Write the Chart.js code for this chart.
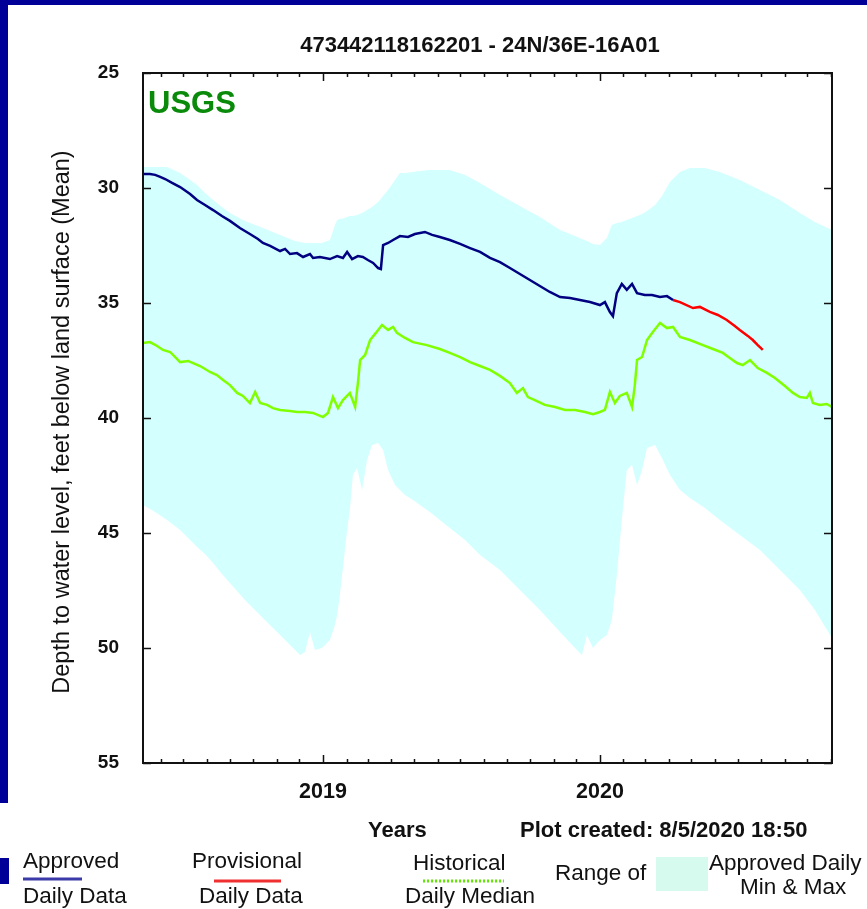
<!DOCTYPE html>
<html>
<head>
<meta charset="utf-8">
<script src="https://cdn.jsdelivr.net/npm/chart.js@4.4.0/dist/chart.umd.min.js"></script>
<style>
body { margin: 0; background: #fff; }
#wrap { position: relative; width: 867px; height: 909px; overflow: hidden; }
#frameTop { position: absolute; left: 0; top: 0; width: 867px; height: 5px; background: #000099; }
#frameLeft { position: absolute; left: 0; top: 0; width: 8px; height: 803px; background: #000099; }
#frameBit { position: absolute; left: 0; top: 858px; width: 9px; height: 26px; background: #000099; }
</style>
</head>
<body>
<div id="wrap">
  <canvas id="gw" width="867" height="909"></canvas>
  <div id="frameTop"></div>
  <div id="frameLeft"></div>
  <div id="frameBit"></div>
</div>
<script>
// decimal years, depth below land surface (ft)
var approvedYears = [2018.350, 2018.375, 2018.394, 2018.412, 2018.430, 2018.455, 2018.484, 2018.520, 2018.545, 2018.574,
    2018.603, 2018.635, 2018.664, 2018.700, 2018.736, 2018.765, 2018.783, 2018.809, 2018.845, 2018.863,
    2018.881, 2018.906, 2018.928, 2018.953, 2018.964, 2018.989, 2019.025, 2019.051, 2019.072, 2019.087,
    2019.105, 2019.126, 2019.144, 2019.162, 2019.181, 2019.199, 2019.209, 2019.217, 2019.235, 2019.253,
    2019.278, 2019.307, 2019.332, 2019.368, 2019.394, 2019.422, 2019.458, 2019.495, 2019.531, 2019.567,
    2019.603, 2019.639, 2019.675, 2019.711, 2019.747, 2019.783, 2019.819, 2019.856, 2019.892, 2019.928,
    2019.964, 2020.000, 2020.018, 2020.036, 2020.047, 2020.061, 2020.079, 2020.097, 2020.116, 2020.134,
    2020.162, 2020.188, 2020.217, 2020.242, 2020.264];
var approvedDepth = [29.39, 29.39, 29.43, 29.52, 29.61, 29.78, 29.96, 30.26, 30.52, 30.74,
    30.96, 31.22, 31.43, 31.74, 32.00, 32.22, 32.39, 32.52, 32.74, 32.65,
    32.87, 32.83, 33.00, 32.87, 33.04, 33.00, 33.09, 32.96, 33.04, 32.78,
    33.09, 32.96, 33.00, 33.13, 33.26, 33.48, 33.52, 32.48, 32.39, 32.26,
    32.09, 32.13, 32.00, 31.91, 32.04, 32.13, 32.26, 32.43, 32.61, 32.78,
    33.04, 33.22, 33.48, 33.74, 34.00, 34.26, 34.52, 34.74, 34.78, 34.87,
    34.96, 35.09, 34.96, 35.39, 35.57, 34.57, 34.17, 34.43, 34.17, 34.57,
    34.65, 34.65, 34.74, 34.70, 34.87];

var provisionalYears = [2020.264, 2020.289, 2020.336, 2020.361, 2020.397, 2020.426, 2020.458, 2020.487, 2020.505, 2020.534,
    2020.552, 2020.570, 2020.588];
var provisionalDepth = [34.87, 34.96, 35.22, 35.17, 35.39, 35.52, 35.74, 36.00, 36.17, 36.43,
    36.61, 36.83, 37.04];

var medianYears = [2018.350, 2018.375, 2018.401, 2018.422, 2018.448, 2018.484, 2018.513, 2018.531, 2018.556, 2018.592,
    2018.617, 2018.639, 2018.664, 2018.690, 2018.711, 2018.736, 2018.755, 2018.773, 2018.798, 2018.819,
    2018.845, 2018.881, 2018.906, 2018.935, 2018.964, 2019.000, 2019.018, 2019.036, 2019.054, 2019.072,
    2019.097, 2019.116, 2019.126, 2019.134, 2019.152, 2019.170, 2019.191, 2019.213, 2019.235, 2019.253,
    2019.267, 2019.296, 2019.325, 2019.375, 2019.422, 2019.458, 2019.495, 2019.531, 2019.567, 2019.603,
    2019.639, 2019.675, 2019.700, 2019.722, 2019.740, 2019.765, 2019.801, 2019.838, 2019.874, 2019.910,
    2019.946, 2019.975, 2020.000, 2020.018, 2020.036, 2020.054, 2020.072, 2020.097, 2020.116, 2020.126,
    2020.134, 2020.152, 2020.170, 2020.191, 2020.217, 2020.242, 2020.264, 2020.289, 2020.325, 2020.372,
    2020.408, 2020.444, 2020.469, 2020.495, 2020.516, 2020.542, 2020.570, 2020.603, 2020.632, 2020.668,
    2020.697, 2020.722, 2020.747, 2020.758, 2020.769, 2020.794, 2020.819, 2020.838];
var medianDepth = [36.74, 36.70, 36.87, 37.04, 37.13, 37.57, 37.52, 37.61, 37.74, 38.00,
    38.13, 38.35, 38.57, 38.91, 39.04, 39.35, 38.87, 39.35, 39.43, 39.57,
    39.65, 39.70, 39.74, 39.74, 39.78, 39.96, 39.78, 39.09, 39.57, 39.22,
    38.91, 39.52, 38.48, 37.48, 37.26, 36.61, 36.30, 35.96, 36.17, 36.04,
    36.30, 36.52, 36.70, 36.83, 37.00, 37.17, 37.35, 37.57, 37.74, 37.91,
    38.17, 38.48, 38.91, 38.70, 39.09, 39.22, 39.43, 39.52, 39.65, 39.65,
    39.74, 39.83, 39.74, 39.65, 38.87, 39.35, 39.04, 38.91, 39.52, 38.57,
    37.48, 37.35, 36.61, 36.26, 35.87, 36.09, 36.04, 36.48, 36.61, 36.83,
    37.00, 37.17, 37.39, 37.61, 37.70, 37.48, 37.83, 38.04, 38.26, 38.61,
    38.91, 39.09, 39.13, 38.91, 39.35, 39.43, 39.39, 39.52];

var rangeYears = [2018.350, 2018.394, 2018.437, 2018.484, 2018.520, 2018.545, 2018.574, 2018.603, 2018.635, 2018.664,
    2018.718, 2018.783, 2018.845, 2018.899, 2018.917, 2018.935, 2018.953, 2018.971, 2018.996, 2019.025,
    2019.043, 2019.051, 2019.061, 2019.079, 2019.087, 2019.097, 2019.108, 2019.123, 2019.141, 2019.159,
    2019.177, 2019.199, 2019.217, 2019.235, 2019.260, 2019.278, 2019.296, 2019.325, 2019.350, 2019.386,
    2019.422, 2019.458, 2019.513, 2019.567, 2019.639, 2019.711, 2019.783, 2019.856, 2019.910, 2019.935,
    2019.953, 2019.975, 2020.000, 2020.025, 2020.043, 2020.061, 2020.079, 2020.097, 2020.116, 2020.134,
    2020.152, 2020.170, 2020.199, 2020.224, 2020.253, 2020.289, 2020.325, 2020.379, 2020.433, 2020.505,
    2020.578, 2020.650, 2020.722, 2020.776, 2020.838];
var rangeMax = [29.09, 29.09, 29.09, 29.35, 29.65, 29.87, 30.22, 30.52, 30.83, 31.09,
    31.43, 31.74, 32.04, 32.30, 32.35, 32.39, 32.39, 32.39, 32.39, 32.26,
    31.61, 31.39, 31.35, 31.30, 31.26, 31.22, 31.22, 31.17, 31.09, 30.96,
    30.83, 30.61, 30.35, 30.09, 29.65, 29.35, 29.35, 29.30, 29.26, 29.22,
    29.22, 29.22, 29.43, 29.78, 30.30, 30.78, 31.26, 31.83, 32.09, 32.22,
    32.30, 32.43, 32.48, 32.17, 31.61, 31.52, 31.48, 31.39, 31.30, 31.22,
    31.13, 31.00, 30.74, 30.35, 29.74, 29.30, 29.13, 29.13, 29.30, 29.65,
    30.09, 30.52, 31.09, 31.48, 31.83];
var rangeMin = [43.78, 44.09, 44.43, 44.87, 45.30, 45.61, 45.91, 46.30, 46.78, 47.17,
    47.91, 48.70, 49.43, 50.09, 50.30, 50.17, 49.30, 50.09, 50.00, 49.65,
    49.00, 48.57, 47.70, 45.74, 44.87, 44.00, 42.48, 42.17, 43.13, 41.83,
    41.17, 41.09, 41.39, 42.26, 42.91, 43.13, 43.35, 43.57, 43.78, 44.09,
    44.43, 44.78, 45.30, 45.96, 46.61, 47.48, 48.35, 49.30, 50.00, 50.30,
    49.43, 50.00, 49.65, 49.43, 48.78, 46.83, 44.43, 42.26, 42.04, 42.91,
    42.26, 41.30, 41.17, 41.74, 42.48, 43.13, 43.48, 43.91, 44.43, 45.09,
    45.74, 46.61, 47.48, 48.35, 49.57];

var depthTicks = [25, 30, 35, 40, 45, 50, 55];
var yearLabels = [2019, 2020];
var xStart = 2018.350, xEnd = 2020.838;

var FONT = '"Liberation Sans", Arial, sans-serif';

function toPoints(xs, ys) {
    return xs.map(function (x, i) { return { x: x, y: ys[i] }; });
}

// first day of each month, as decimal year
function monthTicks() {
    var out = [];
    for (var y = 2018; y <= 2020; y++) {
        var len = (Date.UTC(y + 1, 0, 1) - Date.UTC(y, 0, 1)) / 864e5;
        for (var m = 0; m < 12; m++) {
            var v = y + (Date.UTC(y, m, 1) - Date.UTC(y, 0, 1)) / 864e5 / len;
            if (v > xStart && v < xEnd) out.push(v);
        }
    }
    return out;
}

var decor = {
    id: 'decor',
    afterDatasetsDraw: function (chart) {
        var ctx = chart.ctx, a = chart.chartArea;
        var xs = chart.scales.x, ys = chart.scales.y;
        ctx.save();
        ctx.strokeStyle = '#111';
        ctx.lineWidth = 1.5;
        ctx.beginPath();
        monthTicks().forEach(function (v) {
            var px = Math.round(xs.getPixelForValue(v)) + 0.5;
            var len = (v % 1 === 0) ? 8 : 4;
            ctx.moveTo(px, a.top); ctx.lineTo(px, a.top + len);
            ctx.moveTo(px, a.bottom); ctx.lineTo(px, a.bottom - len);
        });
        depthTicks.forEach(function (v) {
            var py = Math.round(ys.getPixelForValue(v)) + 0.5;
            ctx.moveTo(a.left, py); ctx.lineTo(a.left + 8, py);
            ctx.moveTo(a.right, py); ctx.lineTo(a.right - 8, py);
        });
        ctx.stroke();
        ctx.lineWidth = 2;
        ctx.strokeRect(a.left, a.top, a.right - a.left, a.bottom - a.top);
        ctx.restore();
    },
    afterDraw: function (chart) {
        var ctx = chart.ctx;
        ctx.save();
        ctx.textBaseline = 'middle';
        ctx.fillStyle = '#111';

        ctx.textAlign = 'center';
        ctx.font = 'bold 22px ' + FONT;
        ctx.fillText('473442118162201 - 24N/36E-16A01', 480, 46);

        ctx.textAlign = 'left';
        ctx.fillStyle = '#0a8a0a';
        ctx.font = 'bold 31px ' + FONT;
        ctx.fillText('USGS', 148, 104);

        ctx.fillStyle = '#111';
        ctx.save();
        ctx.translate(63, 422);
        ctx.rotate(-Math.PI / 2);
        ctx.textAlign = 'center';
        ctx.font = '23.5px ' + FONT;
        ctx.fillText('Depth to water level, feet below land surface (Mean)', 0, 0);
        ctx.restore();

        ctx.font = 'bold 22px ' + FONT;
        ctx.fillText('Years', 368, 831);
        ctx.fillText('Plot created: 8/5/2020 18:50', 520, 831);

        // legend
        ctx.font = '22.5px ' + FONT;
        ctx.fillText('Approved', 23, 862);
        ctx.fillText('Daily Data', 23, 897);
        ctx.fillText('Provisional', 192, 862);
        ctx.fillText('Daily Data', 199, 897);
        ctx.fillText('Historical', 413, 864);
        ctx.fillText('Daily Median', 405, 897);
        ctx.fillText('Range of', 555, 874);
        ctx.fillText('Approved Daily', 709, 864);
        ctx.fillText('Min & Max', 740, 888);

        ctx.lineWidth = 3;
        ctx.strokeStyle = '#3a3aa8';
        ctx.beginPath(); ctx.moveTo(23, 879); ctx.lineTo(82, 879); ctx.stroke();
        ctx.strokeStyle = '#f03030';
        ctx.beginPath(); ctx.moveTo(214, 881); ctx.lineTo(281, 881); ctx.stroke();
        ctx.strokeStyle = '#5fe800';
        ctx.setLineDash([2, 2]);
        ctx.beginPath(); ctx.moveTo(423, 881); ctx.lineTo(504, 881); ctx.stroke();
        ctx.setLineDash([]);
        ctx.fillStyle = '#d6fbee';
        ctx.fillRect(656, 857, 52, 34);
        ctx.restore();
    }
};

var ctx = document.getElementById('gw');

var gwChart = new Chart(ctx, {
    type: 'line',
    data: {
        datasets: [{
            label: 'Approved Daily Data',
            data: toPoints(approvedYears, approvedDepth),
            borderColor: '#000080',
            borderWidth: 2.5
        }, {
            label: 'Provisional Daily Data',
            data: toPoints(provisionalYears, provisionalDepth),
            borderColor: '#ff0000',
            borderWidth: 2.5
        }, {
            label: 'Historical Daily Median',
            data: toPoints(medianYears, medianDepth),
            borderColor: '#80ff00',
            borderWidth: 2.5
        }, {
            label: 'Max',
            data: toPoints(rangeYears, rangeMax),
            borderWidth: 0,
            borderColor: 'rgba(0,0,0,0)'
        }, {
            label: 'Min',
            data: toPoints(rangeYears, rangeMin),
            borderWidth: 0,
            borderColor: 'rgba(0,0,0,0)',
            backgroundColor: '#d4ffff',
            fill: '-1'
        }]
    },
    options: {
        responsive: false,
        animation: false,
        events: [],
        elements: { point: { radius: 0 }, line: { tension: 0 } },
        layout: { padding: { left: 0, top: 73, right: 35, bottom: 106 } },
        plugins: {
            legend: { display: false },
            tooltip: { enabled: false }
        },
        scales: {
            x: {
                type: 'linear',
                min: xStart,
                max: xEnd,
                grid: { display: false, drawTicks: false },
                border: { display: false },
                afterFit: function (s) { s.height = 40; },
                afterBuildTicks: function (s) {
                    s.ticks = monthTicks().map(function (v) { return { value: v }; });
                },
                ticks: {
                    autoSkip: false,
                    maxRotation: 0,
                    padding: 16,
                    color: '#111',
                    font: { family: FONT, size: 21.5, weight: 'bold' },
                    callback: function (value) {
                        return yearLabels.indexOf(value) >= 0 ? String(value) : '';
                    }
                }
            },
            y: {
                reverse: true,
                min: 25,
                max: 55,
                grid: { display: false, drawTicks: false },
                border: { display: false },
                afterFit: function (s) { s.width = 143; },
                afterBuildTicks: function (s) {
                    s.ticks = depthTicks.map(function (v) { return { value: v }; });
                },
                ticks: {
                    padding: 24,
                    color: '#111',
                    font: { family: FONT, size: 19, weight: 'bold' }
                }
            }
        }
    },
    plugins: [decor]
});
</script>
</body>
</html>
